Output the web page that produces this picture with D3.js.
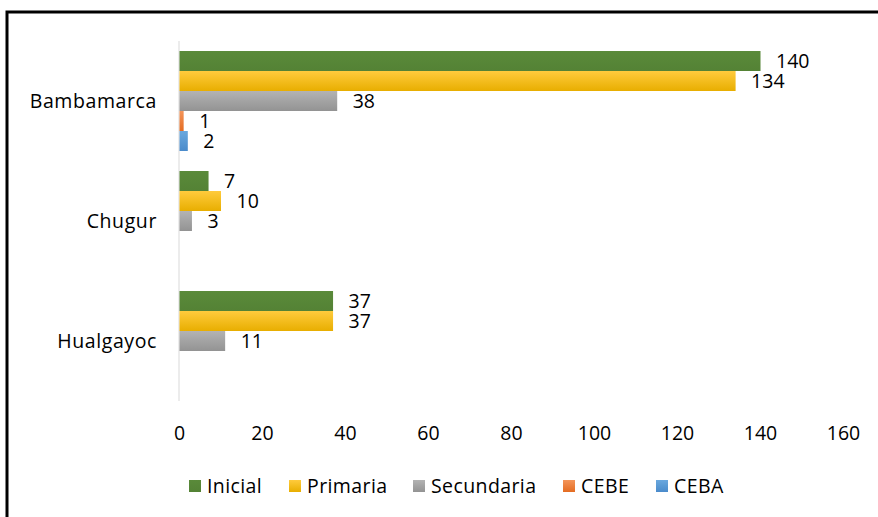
<!DOCTYPE html>
<html><head><meta charset="utf-8">
<script src="https://cdn.jsdelivr.net/npm/d3@7"></script>
<style>body{margin:0;background:#fff}svg{display:block}</style>
</head><body>
<script>
const categories = ["Bambamarca", "Chugur", "Hualgayoc"];
const seriesNames = ["Inicial", "Primaria", "Secundaria", "CEBE", "CEBA"];
const inicial = [140, 7, 37];
const primaria = [134, 10, 37];
const secundaria = [38, 3, 11];
const cebe = [1, null, null];
const ceba = [2, null, null];
const tickValues = [0, 20, 40, 60, 80, 100, 120, 140, 160];

const seriesValues = [inicial, primaria, secundaria, cebe, ceba];
const colors = {
  Inicial: ["#5a8a3a", "#548235"],
  Primaria: ["#ffcb3d", "#e8ae00"],
  Secundaria: ["#b3b3b3", "#939393"],
  CEBE: ["#f4955a", "#e46c22"],
  CEBA: ["#6aa8de", "#4a8bcb"]
};

const W = 878, H = 517;
const font = "'Open Sans', sans-serif";
const fs = 19.5;
const svg = d3.select("body").append("svg").attr("width", W).attr("height", H);

const defs = svg.append("defs");
seriesNames.forEach((s, i) => {
  const g = defs.append("linearGradient").attr("id", "g" + i)
    .attr("x1", 0).attr("y1", 0).attr("x2", 0).attr("y2", 1);
  g.append("stop").attr("offset", "0%").attr("stop-color", colors[s][0]);
  g.append("stop").attr("offset", "100%").attr("stop-color", colors[s][1]);
});

svg.append("rect").attr("x", 7).attr("y", 12).attr("width", 1000).attr("height", 1000)
  .attr("fill", "none").attr("stroke", "#000").attr("stroke-width", 3);

const x = d3.scaleLinear().domain([0, 160]).range([179, 843]);
const y0 = d3.scaleBand().domain(categories).range([41, 401]).paddingInner(0).paddingOuter(0);
const y1 = d3.scaleBand().domain(seriesNames).range([10, 110]);

// axis line
svg.append("line").attr("x1", x(0)).attr("x2", x(0)).attr("y1", 41).attr("y2", 401)
  .attr("stroke", "#d9d9d9").attr("stroke-width", 1);

// category labels
const yAxis = d3.axisLeft(d3.scalePoint().domain(categories).range([y0("Bambamarca") + 60, y0("Hualgayoc") + 60]))
  .tickSize(0).tickPadding(0);
const ya = svg.append("g").attr("transform", `translate(157,0)`).call(yAxis);
ya.select(".domain").remove();
ya.selectAll("text").attr("font-family", font).attr("font-size", fs).attr("fill", "#000")
  .attr("dy", "0.35em").attr("letter-spacing", 0.6);

// x ticks
const xAxis = d3.axisBottom(x).tickValues(tickValues).tickSize(0).tickPadding(0);
const xa = svg.append("g").attr("transform", "translate(0,433)").call(xAxis);
xa.select(".domain").remove();
xa.selectAll("text").attr("font-family", font).attr("font-size", fs).attr("fill", "#000").attr("dy", "0.35em");

// bars
categories.forEach((c, ci) => {
  const g = svg.append("g").attr("transform", `translate(0,${y0(c)})`);
  seriesNames.forEach((s, si) => {
    const v = seriesValues[si][ci];
    if (v == null) return;
    g.append("rect").attr("x", x(0) + 0.5).attr("y", y1(s))
      .attr("width", x(v) - x(0)).attr("height", y1.bandwidth())
      .attr("fill", `url(#g${si})`);
    g.append("text").attr("x", x(v) + 16).attr("y", y1(s) + y1.bandwidth() / 2)
      .attr("dy", "0.35em").attr("font-family", font).attr("font-size", fs).attr("fill", "#000")
      .text(v);
  });
});

// legend
const legendX = [189, 289, 413, 563, 656];
const lg = svg.append("g").attr("transform", "translate(0,486)");
seriesNames.forEach((s, i) => {
  lg.append("rect").attr("x", legendX[i]).attr("y", -6).attr("width", 12).attr("height", 12)
    .attr("fill", `url(#g${i})`);
  lg.append("text").attr("x", legendX[i] + 18).attr("y", 0).attr("dy", "0.35em")
    .attr("font-family", font).attr("font-size", fs).attr("fill", "#000")
    .attr("letter-spacing", 0.4).text(s);
});
</script>
</body></html>
